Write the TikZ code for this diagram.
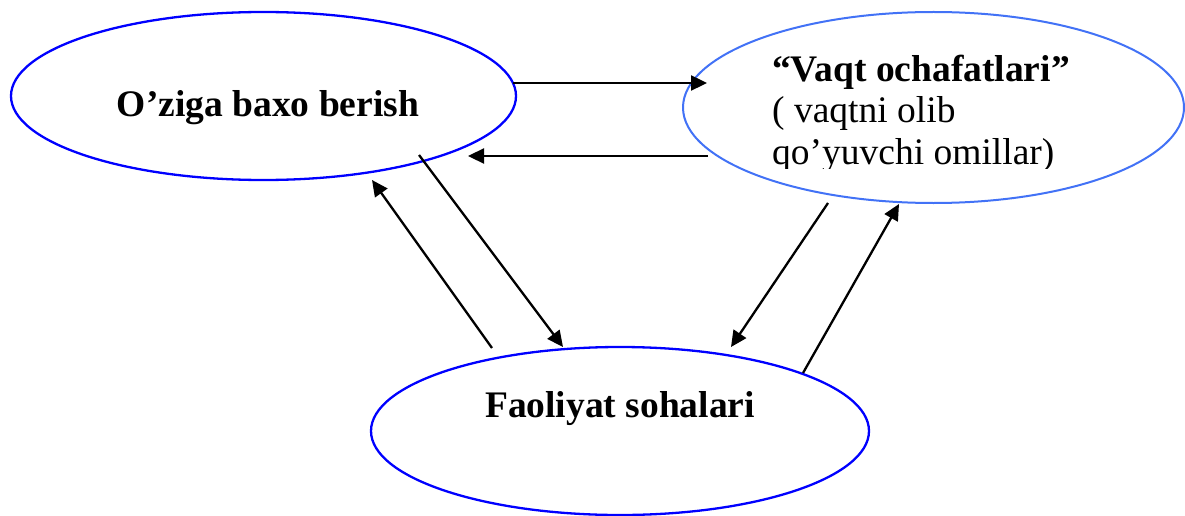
\documentclass[tikz,border=0pt]{standalone}
\usepackage{fontspec}
\setmainfont{Liberation Serif}
\usetikzlibrary{shapes.geometric,arrows.meta}
\definecolor{ringblue}{RGB}{0,0,255}
\definecolor{softblue}{RGB}{66,114,246}
\tikzset{
  ring/.style={draw=ringblue, line width=2.3pt, ellipse, inner sep=0pt, fill=none},
  softring/.style={draw=softblue, line width=2pt, ellipse, inner sep=0pt, fill=none},
  big/.style={font=\fontsize{37.5}{41}\selectfont, inner sep=0pt, anchor=base},
  link/.style={line width=2.3pt, -{Triangle[length=16pt,width=15pt]}}
}
\begin{document}
\begin{tikzpicture}[x=1pt,y=-1pt]
  \useasboundingbox (0,0) rectangle (1185,516);

  % the three ellipses
  \node[ring, minimum width=505pt, minimum height=168pt] (self) at (263.5,96) {};
  \node[softring, minimum width=501pt, minimum height=191pt] (thieves) at (933.5,107.5) {};
  \node[ring, minimum width=498pt, minimum height=168pt] (fields) at (620,431) {};

  % labels
  \node[big] (selft) at (268,117) {\textbf{O’ziga baxo berish}};
  \node[big] (fieldst) at (620,417) {\textbf{Faoliyat sohalari}};
  \begin{scope}
    \clip (700,20) rectangle (1180,168);
    \node[big, anchor=base west] (v1) at (772,82) {\textbf{“Vaqt ochafatlari”}};
    \node[big, anchor=base west] (v2) at (772,123) {( vaqtni olib};
    \node[big, anchor=base west] (v3) at (772,164) {qo’yuvchi omillar)};
  \end{scope}

  % connector end points
  \coordinate (a1s) at (513,83);   \coordinate (a1e) at (707,83);
  \coordinate (a2s) at (708,156);  \coordinate (a2e) at (468,156);
  \coordinate (a3s) at (419,155);  \coordinate (a3e) at (563,347);
  \coordinate (a4s) at (492,348);  \coordinate (a4e) at (372,180);
  \coordinate (a5s) at (828,203);  \coordinate (a5e) at (731,347);
  \coordinate (a6s) at (803,373);  \coordinate (a6e) at (899,204);

  % connectors
  \draw[link] (a1s) -- (a1e);
  \draw[link] (a2s) -- (a2e);
  \draw[link] (a3s) -- (a3e);
  \draw[link] (a4s) -- (a4e);
  \draw[link] (a5s) -- (a5e);
  \draw[link] (a6s) -- (a6e);
\end{tikzpicture}
\end{document}
